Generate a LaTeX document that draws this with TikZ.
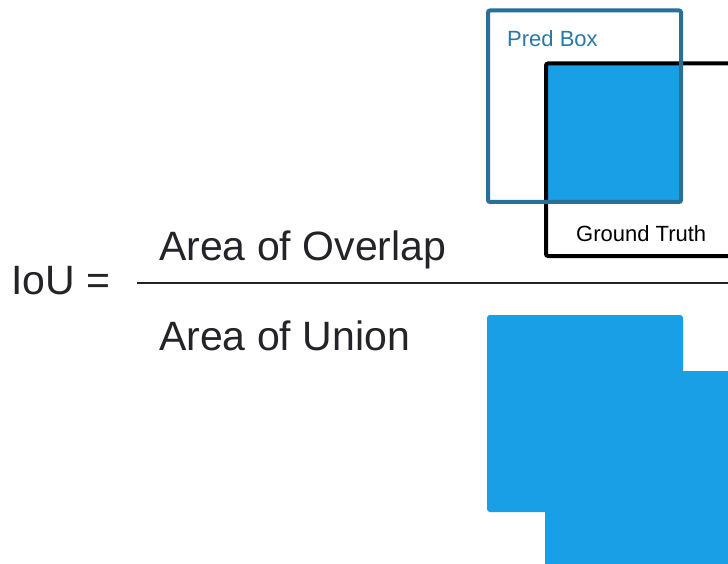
\documentclass[tikz,border=0pt]{standalone}
\usepackage{fontspec}
\setmainfont{Liberation Sans}
\definecolor{fillblue}{RGB}{24,159,230}
\definecolor{predcol}{RGB}{40,112,150}
\definecolor{predtext}{RGB}{41,120,165}
\definecolor{inkcol}{RGB}{36,36,40}
\tikzset{
  bigtext/.style={inner sep=0pt, anchor=base west, text=inkcol, font=\fontsize{41}{41}\selectfont},
  boxlabel/.style={inner sep=0pt, anchor=base west, font=\fontsize{22}{22}\selectfont},
  predbox/.style={draw=predcol, line width=4pt, rounded corners=2pt},
  gtbox/.style={draw=black, line width=4pt, rounded corners=2pt},
  bluefill/.style={fill=fillblue, draw=none, rounded corners=3pt},
  fracline/.style={draw=inkcol, line width=2pt}
}
\begin{document}
\begin{tikzpicture}[x=1pt,y=-1pt]
\useasboundingbox (0,0) rectangle (728,564);
\clip (0,0) rectangle (728,564);
\fill[white] (0,0) rectangle (728,564);
% overlap illustration
\fill[fillblue] (546,63.5) rectangle (681,202);
\draw[gtbox] (760,256) -- (546,256) -- (546,63.5) -- (760,63.5);
\draw[predbox] (488,10.5) rectangle (681,202);
\node[boxlabel, text=predtext] (pred) at (507,47) {Pred Box};
\node[boxlabel, text=black] (gt) at (576,241) {Ground Truth};
% union illustration
\fill[bluefill] (487,315) rectangle (683,512);
\fill[bluefill] (545,371) rectangle (760,600);
% formula
\node[bigtext] (iou) at (11,294) {IoU =};
\coordinate (lstart) at (137,283);
\coordinate (lend) at (760,283);
\draw[fracline] (lstart) -- (lend);
\node[bigtext] (num) at (159,260) {Area of Overlap};
\node[bigtext] (den) at (159,350) {Area of Union};
\end{tikzpicture}
\end{document}
